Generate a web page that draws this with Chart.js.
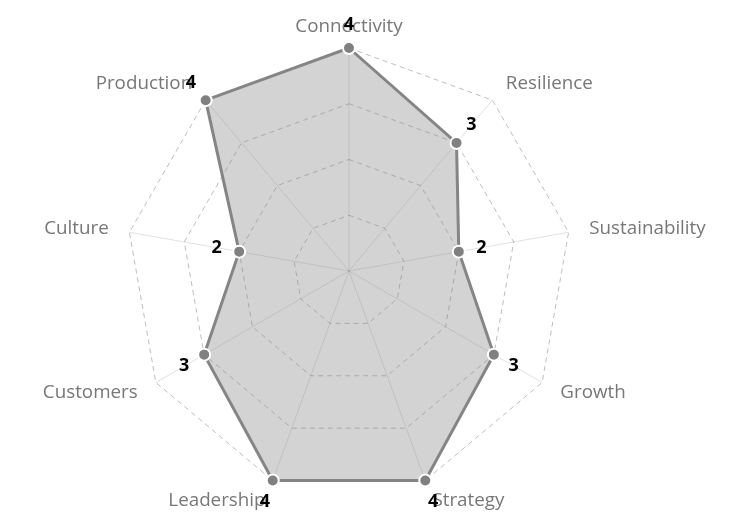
<!DOCTYPE html>
<html>
<head>
<meta charset="utf-8">
<script src="https://cdn.jsdelivr.net/npm/chart.js@4"></script>
<style>
  html, body { margin: 0; padding: 0; background: #fff; }
  #wrap { width: 737px; height: 522px; }
</style>
</head>
<body>
<div id="wrap"><canvas id="myChart"></canvas></div>
<script>
const labels = ['Connectivity', 'Resilience', 'Sustainability', 'Growth', 'Strategy', 'Leadership', 'Customers', 'Culture', 'Production'];
const scores = [4, 3, 2, 3, 4, 4, 3, 2, 4];
const scaleMin = 0;
const scaleMax = 4;

// category names, centred vertically on a ring just outside the chart
const categoryLabels = {
  id: 'categoryLabels',
  afterDraw(chart) {
    const ctx = chart.ctx;
    const r = chart.scales.r;
    ctx.save();
    ctx.font = '18.8px "Open Sans"';
    ctx.fillStyle = '#777';
    ctx.textBaseline = 'middle';
    labels.forEach((name, i) => {
      const pos = r.getPointPosition(i, r.drawingArea + 21);
      const dx = pos.x - r.xCenter;
      if (Math.abs(dx) < 2) ctx.textAlign = 'center';
      else ctx.textAlign = dx > 0 ? 'left' : 'right';
      ctx.fillText(name, pos.x, pos.y);
    });
    ctx.restore();
  }
};

// the number next to each point, pushed outward from the centre
const valueLabels = {
  id: 'valueLabels',
  afterDraw(chart) {
    const ctx = chart.ctx;
    const r = chart.scales.r;
    const meta = chart.getDatasetMeta(0);
    ctx.save();
    ctx.font = 'bold 18px "Open Sans"';
    ctx.fillStyle = '#000';
    ctx.textAlign = 'center';
    ctx.textBaseline = 'middle';
    meta.data.forEach((pt, i) => {
      const dx = pt.x - r.xCenter;
      const dy = pt.y - r.yCenter;
      const len = Math.sqrt(dx * dx + dy * dy) || 1;
      ctx.fillText(String(scores[i]), pt.x + dx / len * 23, pt.y + dy / len * 23);
    });
    ctx.restore();
  }
};

const data = {
  labels: labels,
  datasets: [{
    label: '',
    data: scores,
    backgroundColor: 'rgba(128,128,128,0.35)',
    borderColor: '#858585',
    borderWidth: 3,
    pointBackgroundColor: '#808080',
    pointBorderColor: '#fff',
    pointBorderWidth: 2,
    pointRadius: 6
  }]
};

const config = {
  type: 'radar',
  data: data,
  plugins: [categoryLabels, valueLabels],
  options: {
    responsive: true,
    maintainAspectRatio: false,
    animation: false,
    layout: { padding: { top: 48, bottom: 28, left: 0, right: 39 } },
    plugins: {
      legend: { display: false },
      tooltip: { enabled: false }
    },
    scales: {
      r: {
        min: scaleMin,
        max: scaleMax,
        ticks: { display: false, stepSize: 1 },
        grid: { color: 'rgba(0,0,0,0.26)', lineWidth: 1 },
        border: { dash: [5, 4] },
        angleLines: { color: 'rgba(0,0,0,0.12)', lineWidth: 1 },
        pointLabels: { display: false }
      }
    }
  }
};

const myChart = new Chart(document.getElementById('myChart'), config);
</script>
</body>
</html>
